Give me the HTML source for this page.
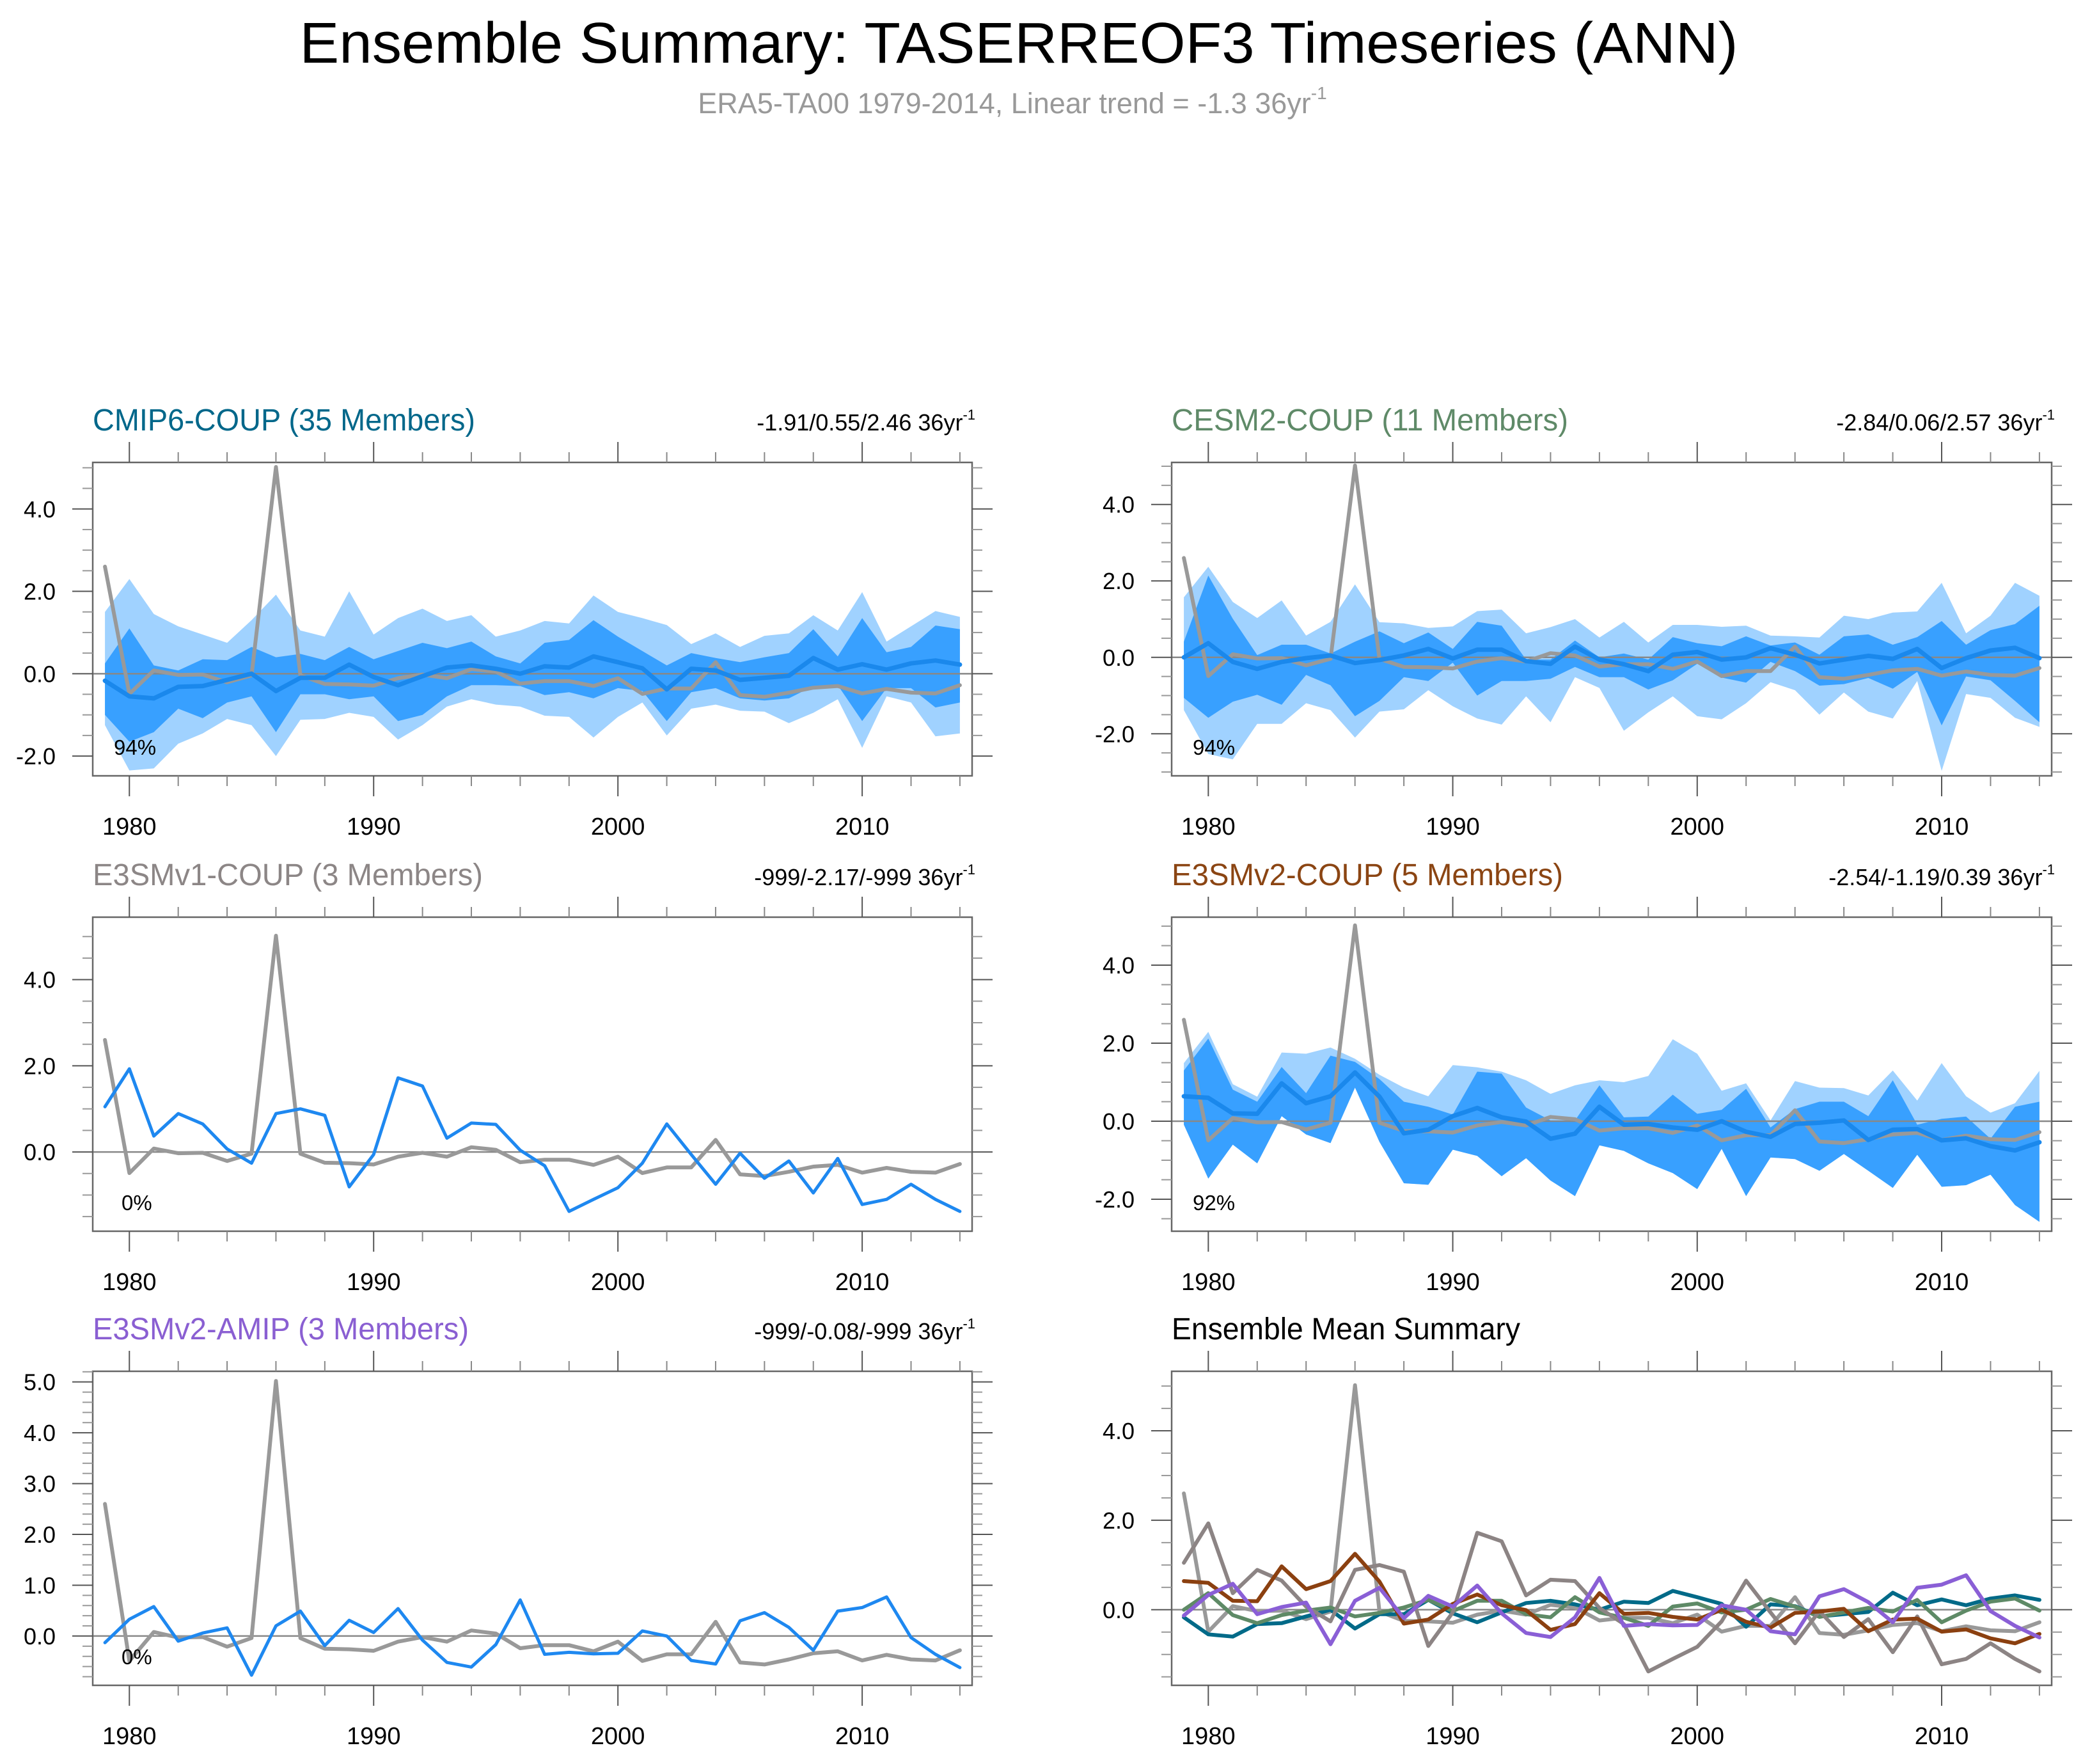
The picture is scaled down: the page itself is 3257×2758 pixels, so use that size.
<!DOCTYPE html>
<html><head><meta charset="utf-8"><style>
html,body{margin:0;padding:0;background:#fff;}
svg{display:block;font-family:"Liberation Sans",Arial,sans-serif;}
</style></head><body>
<svg id="chart" width="3257" height="2758" viewBox="0 0 3257 2758" xmlns="http://www.w3.org/2000/svg">
<rect x="0" y="0" width="3257" height="2758" fill="#fff"/>
<text x="1593" y="98" font-size="90" text-anchor="middle" textLength="2249" lengthAdjust="spacingAndGlyphs">Ensemble Summary: TASERREOF3 Timeseries (ANN)</text>
<text x="1583" y="177" font-size="45" fill="#999" text-anchor="middle">ERA5-TA00 1979-2014, Linear trend = -1.3 36yr<tspan font-size="28" dy="-22">-1</tspan></text>
</svg>
<script>
const years = [];
for (let y = 1979; y <= 2014; y++) years.push(y);
const obsERA5 = [2.6,-0.49,0.08,-0.03,-0.02,-0.21,-0.04,5.02,-0.04,-0.25,-0.26,-0.29,-0.11,-0.02,-0.11,0.11,0.05,-0.24,-0.18,-0.18,-0.3,-0.11,-0.49,-0.36,-0.36,0.28,-0.52,-0.56,-0.46,-0.34,-0.3,-0.48,-0.37,-0.46,-0.48,-0.28];
const cmip6Mean = [-0.17,-0.55,-0.6,-0.32,-0.3,-0.15,0.0,-0.42,-0.1,-0.1,0.22,-0.08,-0.28,-0.06,0.15,0.2,0.12,0.0,0.18,0.15,0.42,0.28,0.13,-0.38,0.12,0.08,-0.15,-0.1,-0.05,0.38,0.1,0.23,0.1,0.25,0.32,0.22];
const cmip6OuterHi = [1.5,2.3,1.45,1.15,0.95,0.75,1.3,1.92,1.05,0.9,2.0,0.95,1.35,1.58,1.28,1.42,0.9,1.05,1.28,1.22,1.9,1.5,1.35,1.18,0.72,0.98,0.65,0.92,0.98,1.42,1.05,1.98,0.78,1.15,1.52,1.38];
const cmip6OuterLo = [-1.25,-2.35,-2.3,-1.7,-1.45,-1.1,-1.25,-2.0,-1.12,-1.1,-0.95,-1.05,-1.6,-1.25,-0.8,-0.62,-0.75,-0.8,-1.02,-1.05,-1.55,-1.05,-0.7,-1.5,-0.85,-0.75,-0.9,-0.92,-1.2,-0.95,-0.62,-1.8,-0.55,-0.7,-1.52,-1.45];
const cmip6InnerHi = [0.25,1.1,0.2,0.08,0.35,0.33,0.65,0.4,0.48,0.33,0.65,0.35,0.55,0.75,0.62,0.78,0.42,0.25,0.75,0.82,1.3,0.9,0.55,0.2,0.5,0.38,0.28,0.4,0.5,1.08,0.42,1.35,0.52,0.65,1.17,1.08];
const cmip6InnerLo = [-1.0,-1.65,-1.42,-0.85,-1.08,-0.7,-0.55,-1.42,-0.5,-0.5,-0.62,-0.55,-1.15,-1.0,-0.55,-0.28,-0.28,-0.3,-0.52,-0.45,-0.6,-0.35,-0.42,-1.15,-0.45,-0.35,-0.6,-0.65,-0.6,-0.3,-0.28,-1.15,-0.35,-0.35,-0.82,-0.7];
const cesm2Mean = [0.0,0.37,-0.12,-0.3,-0.12,-0.02,0.05,-0.15,-0.07,0.05,0.22,-0.03,0.2,0.2,-0.1,-0.17,0.28,-0.06,-0.18,-0.36,0.07,0.14,-0.06,0.0,0.24,0.07,-0.16,-0.06,0.04,-0.04,0.22,-0.28,-0.02,0.18,0.25,-0.02];
const cesm2OuterHi = [1.57,2.37,1.45,1.03,1.49,0.57,0.93,1.91,0.92,0.89,0.77,0.81,1.21,1.25,0.63,0.79,1.0,0.52,0.93,0.39,0.85,0.85,0.8,0.83,0.57,0.55,0.52,1.09,1.0,1.17,1.2,1.95,0.63,1.09,1.95,1.61];
const cesm2OuterLo = [-1.38,-2.53,-2.67,-1.74,-1.74,-1.2,-1.38,-2.1,-1.42,-1.36,-0.86,-1.28,-1.6,-1.76,-1.02,-1.7,-0.52,-0.8,-1.92,-1.44,-1.02,-1.54,-1.62,-1.2,-0.65,-0.86,-1.5,-0.92,-1.42,-1.6,-0.62,-2.97,-0.96,-1.06,-1.58,-1.82];
const cesm2InnerHi = [0.41,2.14,1.01,0.06,0.33,0.33,0.1,0.41,0.68,0.37,0.65,0.22,0.93,0.83,-0.06,-0.06,0.44,0.0,0.1,-0.06,0.53,0.37,0.29,0.55,0.31,0.39,0.07,0.55,0.6,0.33,0.53,0.95,0.33,0.71,0.87,1.35];
const cesm2InnerLo = [-1.06,-1.58,-1.16,-0.98,-1.24,-0.46,-0.73,-1.54,-1.14,-0.52,-0.62,-0.14,-1.0,-0.62,-0.62,-0.56,-0.25,-0.52,-0.52,-0.84,-0.6,-0.17,-0.53,-0.66,-0.12,-0.36,-0.74,-0.7,-0.54,-0.82,-0.38,-1.78,-0.5,-0.6,-1.14,-1.7];
const e3smv1Mean = [1.05,1.93,0.37,0.89,0.65,0.07,-0.26,0.89,1.0,0.85,-0.81,-0.06,1.72,1.53,0.32,0.67,0.64,0.04,-0.32,-1.38,-1.1,-0.83,-0.26,0.65,-0.06,-0.75,-0.03,-0.61,-0.21,-0.95,-0.15,-1.22,-1.1,-0.75,-1.1,-1.38];
const e3smv2Mean = [0.64,0.6,0.2,0.19,0.97,0.46,0.64,1.25,0.63,-0.31,-0.22,0.13,0.34,0.1,-0.01,-0.45,-0.32,0.37,-0.09,-0.07,-0.16,-0.22,0.0,-0.27,-0.4,-0.07,-0.04,0.02,-0.48,-0.22,-0.2,-0.49,-0.44,-0.64,-0.75,-0.54];
const e3smv2OuterHi = [1.49,2.29,0.95,0.63,1.76,1.73,1.89,1.6,1.19,0.86,0.64,1.44,1.38,1.27,1.05,0.7,0.92,1.05,1.0,1.16,2.1,1.73,0.78,0.97,0.02,1.03,0.86,0.85,0.66,1.3,0.53,1.49,0.64,0.22,0.46,1.29];
const e3smv2InnerHi = [1.3,2.12,0.81,0.5,1.39,0.72,1.68,1.52,1.08,0.5,0.37,0.17,1.27,1.22,0.35,0.02,0.02,0.92,0.1,0.12,0.68,0.19,0.29,0.83,-0.16,0.31,0.5,0.5,0.13,1.05,-0.09,0.06,0.12,-0.45,0.37,0.5];
const e3smv2InnerLo = [-0.09,-1.47,-0.6,-1.08,0.13,-0.34,-0.56,0.86,-0.53,-1.59,-1.63,-0.73,-0.89,-1.41,-0.95,-1.52,-1.92,-0.62,-0.76,-1.08,-1.33,-1.74,-0.71,-1.92,-0.93,-0.97,-1.27,-0.84,-1.27,-1.71,-0.86,-1.68,-1.64,-1.37,-2.15,-2.58];
const amipMean = [-0.13,0.33,0.58,-0.1,0.06,0.16,-0.77,0.2,0.49,-0.19,0.31,0.07,0.54,-0.08,-0.52,-0.61,-0.17,0.71,-0.36,-0.32,-0.35,-0.34,0.1,0.0,-0.48,-0.55,0.3,0.46,0.17,-0.28,0.49,0.56,0.77,-0.03,-0.36,-0.62];
const xTickLabels = [1980,1990,2000,2010];

const NS = "http://www.w3.org/2000/svg";
const svg = document.getElementById('chart');
function mk(tag, attrs, parent) {
  const e = document.createElementNS(NS, tag);
  for (const k in attrs) e.setAttribute(k, attrs[k]);
  (parent || svg).appendChild(e);
  return e;
}
const LIGHT = "#a0d2ff", DARK = "#38a0ff", MEANC = "#1a88ec", OBS = "#999999";

const panels = [
  {id:'cmip6', x0:145, x1:1520, y0:723, y1:1213, ymin:-2.48, ymax:5.13, major:2, minor:0.5, title:'CMIP6-COUP (35 Members)', tcol:'#00678a', tlen:598, trend:'-1.91/0.55/2.46 36yr', pct:'94%', bands:[cmip6OuterLo,cmip6OuterHi,cmip6InnerLo,cmip6InnerHi], mean:cmip6Mean, mw:7},
  {id:'cesm2', x0:1832, x1:3208, y0:723, y1:1213, ymin:-3.1, ymax:5.1, major:2, minor:0.5, title:'CESM2-COUP (11 Members)', tcol:'#5f8a68', tlen:620, trend:'-2.84/0.06/2.57 36yr', pct:'94%', bands:[cesm2OuterLo,cesm2OuterHi,cesm2InnerLo,cesm2InnerHi], mean:cesm2Mean, mw:7},
  {id:'e3smv1', x0:145, x1:1520, y0:1434, y1:1925, ymin:-1.84, ymax:5.45, major:2, minor:0.5, title:'E3SMv1-COUP (3 Members)', tcol:'#8c8686', tlen:610, trend:'-999/-2.17/-999 36yr', pct:'0%', bands:null, mean:e3smv1Mean, mw:5},
  {id:'e3smv2', x0:1832, x1:3208, y0:1434, y1:1925, ymin:-2.82, ymax:5.23, major:2, minor:0.5, title:'E3SMv2-COUP (5 Members)', tcol:'#8b4513', tlen:612, trend:'-2.54/-1.19/0.39 36yr', pct:'92%', bands:[e3smv2InnerLo,e3smv2OuterHi,e3smv2InnerLo,e3smv2InnerHi], mean:e3smv2Mean, mw:7},
  {id:'amip', x0:145, x1:1520, y0:2144, y1:2635, ymin:-0.97, ymax:5.21, major:1, minor:0.2, title:'E3SMv2-AMIP (3 Members)', tcol:'#8a5fd2', tlen:588, trend:'-999/-0.08/-999 36yr', pct:'0%', bands:null, mean:amipMean, mw:5},
  {id:'summary', x0:1832, x1:3208, y0:2144, y1:2635, ymin:-1.69, ymax:5.33, major:2, minor:0.5, title:'Ensemble Mean Summary', tcol:'#000', tlen:545, trend:null, pct:null, bands:null, mean:null}
];
const summaryLines = [
  {name:'summary-cmip6-line', data:cmip6Mean, col:'#006a88'},
  {name:'summary-cesm2-line', data:cesm2Mean, col:'#5e8a66'},
  {name:'summary-e3smv1-line', data:e3smv1Mean, col:'#8c8484'},
  {name:'summary-e3smv2-line', data:e3smv2Mean, col:'#8b4010'},
  {name:'summary-amip-line', data:amipMean, col:'#8a5fd6'}
];

function pathFrom(xs, ys, X, Y) {
  return xs.map((v,i)=> (i?'L':'M') + X(v).toFixed(1) + ',' + Y(ys[i]).toFixed(1)).join(' ');
}
function bandPath(lo, hi, X, Y) {
  let d = years.map((v,i)=> (i?'L':'M') + X(v).toFixed(1) + ',' + Y(hi[i]).toFixed(1)).join(' ');
  for (let i = years.length-1; i >= 0; i--) d += ' L' + X(years[i]).toFixed(1) + ',' + Y(lo[i]).toFixed(1);
  return d + ' Z';
}

panels.forEach(p => {
  const g = mk('g', {});
  
  
  const X = v => p.x0 + (v - 1978.5) / 36 * (p.x1 - p.x0);
  const Y = v => p.y1 - (v - p.ymin) / (p.ymax - p.ymin) * (p.y1 - p.y0);
  const labelBase = p.y1 + 92;

  const t = mk('text', {x:p.x0, y:p.y0 - 50, 'font-size':48, fill:p.tcol, textLength:p.tlen, lengthAdjust:'spacingAndGlyphs'}, g);
  t.textContent = p.title;
  
  
  if (p.trend) {
    const tr = mk('text', {x:p.x1 + 5, y:p.y0 - 50, 'font-size':36, 'text-anchor':'end'}, g);
    tr.textContent = p.trend;
    const sup = mk('tspan', {'font-size':22, dy:-17}, tr);
    sup.textContent = '-1';
    
    
  }

  if (p.bands) {
    const ob = mk('path', {d:bandPath(p.bands[0], p.bands[1], X, Y), fill:LIGHT}, g);
    
    
    const ib = mk('path', {d:bandPath(p.bands[2], p.bands[3], X, Y), fill:DARK}, g);
    
    
  }
  const z = mk('line', {x1:p.x0, x2:p.x1, y1:Y(0), y2:Y(0), stroke:'#888', 'stroke-width':2.5}, g);
  
  

  const ol = mk('path', {d:pathFrom(years, obsERA5, X, Y), fill:'none', stroke:OBS, 'stroke-width':6, 'stroke-linejoin':'round', 'stroke-linecap':'round'}, g);
  
  

  if (p.mean) {
    const ml = mk('path', {d:pathFrom(years, p.mean, X, Y), fill:'none', stroke:p.bands ? MEANC : '#1e88f0', 'stroke-width':p.mw, 'stroke-linejoin':'round', 'stroke-linecap':'round'}, g);
    
    
  }
  if (p.id === 'summary') {
    summaryLines.forEach(s => {
      const sl = mk('path', {d:pathFrom(years, s.data, X, Y), fill:'none', stroke:s.col, 'stroke-width':6, 'stroke-linejoin':'round', 'stroke-linecap':'round'}, g);
      
      
    });
  }

  const fr = mk('rect', {x:p.x0, y:p.y0, width:p.x1-p.x0, height:p.y1-p.y0, fill:'none', stroke:'#666', 'stroke-width':2.5}, g);
  
  

  for (let yr = 1980; yr <= 2014; yr += 2) {
    const maj = (yr % 10 === 0);
    const L = maj ? 32 : 16;
    mk('line', {x1:X(yr), x2:X(yr), y1:p.y1, y2:p.y1 + L, stroke:maj?'#555':'#888', 'stroke-width':2}, g);
    mk('line', {x1:X(yr), x2:X(yr), y1:p.y0, y2:p.y0 - L, stroke:maj?'#555':'#888', 'stroke-width':2}, g);
  }
  xTickLabels.forEach(v => {
    const xl = mk('text', {x:X(v), y:labelBase, 'font-size':38, 'text-anchor':'middle'}, g);
    xl.textContent = String(v);
    
    
  });
  const n0 = Math.ceil(p.ymin / p.minor - 1e-6), n1 = Math.floor(p.ymax / p.minor + 1e-6);
  for (let n = n0; n <= n1; n++) {
    const v = n * p.minor;
    const maj = Math.abs(v / p.major - Math.round(v / p.major)) < 1e-6;
    const L = maj ? 32 : 16;
    const yy = Y(v);
    mk('line', {x1:p.x0, x2:p.x0 - L, y1:yy, y2:yy, stroke:maj?'#555':'#999', 'stroke-width':2}, g);
    mk('line', {x1:p.x1, x2:p.x1 + L, y1:yy, y2:yy, stroke:maj?'#555':'#999', 'stroke-width':2}, g);
    if (maj) {
      const yl = mk('text', {x:p.x0 - 58, y:yy + 13, 'font-size':36, 'text-anchor':'end'}, g);
      yl.textContent = (Math.abs(v) < 1e-9 ? 0 : v).toFixed(1);
      
      
    }
  }
  if (p.pct) {
    const pc = mk('text', {x:p.x0 + 33 + (p.pct.length < 3 ? 12 : 0), y:p.y1 - 33, 'font-size':33}, g);
    pc.textContent = p.pct;
    
    
  }
});
</script>
</body></html>
